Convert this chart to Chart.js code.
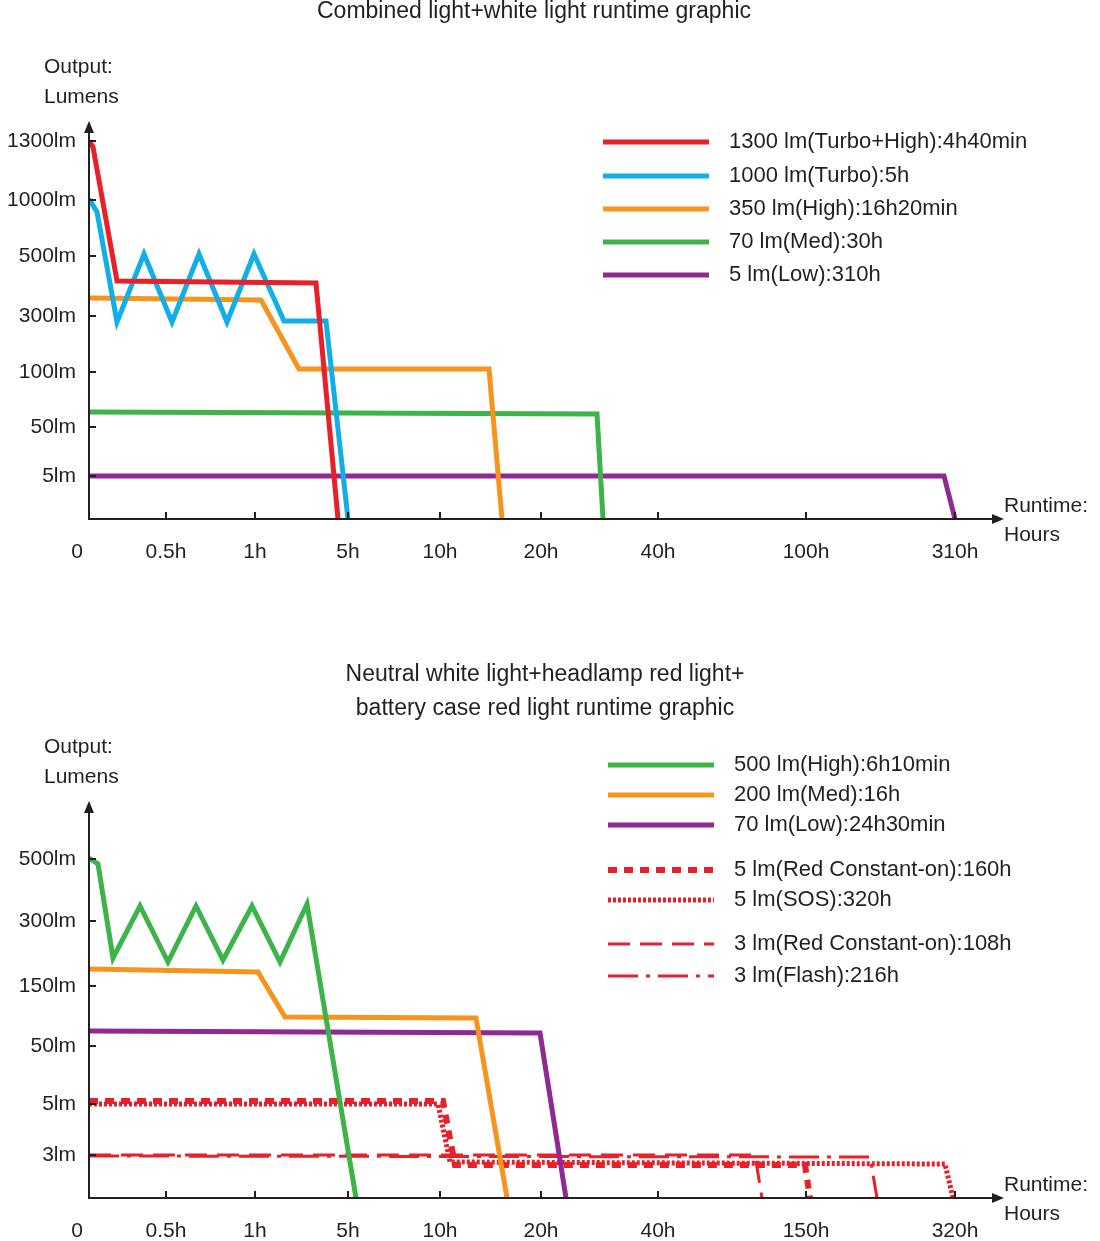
<!DOCTYPE html>
<html><head><meta charset="utf-8">
<script src="https://cdn.jsdelivr.net/npm/chart.js@4"></script>
<style>
body{margin:0;background:#fff;}
canvas{position:absolute;left:0;}
</style></head>
<body>
<canvas id="top" width="1100" height="620" style="top:0"></canvas>
<canvas id="bottom" width="1100" height="621" style="top:620px"></canvas>
<script>
// x and y are in axis units (the axes are not to scale, so units follow the drawn ticks)
const topXTicks = [[77, "0.5h"], [166, "1h"], [259, "5h"], [351, "10h"], [452, "20h"], [569, "40h"], [717, "100h"], [866, "310h"]];
const topYTicks = [[378, "1300lm"], [319, "1000lm"], [263, "500lm"], [203, "300lm"], [147, "100lm"], [92, "50lm"], [43, "5lm"]];
const botXTicks = [[77, "0.5h"], [166, "1h"], [259, "5h"], [351, "10h"], [452, "20h"], [569, "40h"], [717, "150h"], [866, "320h"]];
const botYTicks = [[339, "500lm"], [277, "300lm"], [212, "150lm"], [152, "50lm"], [94, "5lm"], [43, "3lm"]];

const topLabels = ["1300 lm(Turbo+High):4h40min", "1000 lm(Turbo):5h", "350 lm(High):16h20min", "70 lm(Med):30h", "5 lm(Low):310h"];
const turbo13 = [[0,378],[4,372],[28,238],[227,236],[249,0]];
const turbo10 = [[0,320],[8,307],[28,197],[55,265],[83,197],[110,265],[138,197],[165,265],[195,198],[237,198],[259,0]];
const high350 = [[0,221],[172,219],[210,150],[400,150],[413,0]];
const med70 = [[0,107],[508,105],[514,0]];
const low5 = [[0,43],[855,43],[866,0]];

const botLabels = ["500 lm(High):6h10min", "200 lm(Med):16h", "70 lm(Low):24h30min", "5 lm(Red Constant-on):160h", "5 lm(SOS):320h", "3 lm(Red Constant-on):108h", "3 lm(Flash):216h"];
const high500 = [[0,340],[9,334],[24,240],[51,292],[79,236],[107,292],[134,238],[163,292],[191,236],[218,294],[267,0]];
const med200 = [[0,229],[169,226],[196,181],[387,180],[418,0]];
const low70 = [[0,167],[451,165],[477,0]];
const red5 = [[0,97],[354,97],[366,33],[716,33],[721,0]];
const sos5 = [[0,94],[349,94],[361,36],[856,34],[864,0]];
const red3 = [[0,43],[666,43],[673,0]];
const flash3 = [[0,42],[781,41],[788,0]];

const FONT = '"Liberation Sans", Arial, sans-serif';
const RED = "#e8202a", BLUE = "#12aee8", ORANGE = "#f7941d", GREEN = "#3cb44a", PURPLE = "#8e2a91";

function ds(pts, color, dash, width) {
  return {data: pts.map(p => ({x: p[0], y: p[1]})), borderColor: color, borderWidth: width || 5,
    borderDash: dash || [], pointRadius: 0, tension: 0, fill: false, borderCapStyle: "butt"};
}

function makeChart(id, opts) {
  const decor = {
    id: "decor",
    afterDraw(chart) {
      const c = chart.ctx, xs = chart.scales.x, ys = chart.scales.y, a = chart.chartArea;
      c.save();
      c.fillStyle = "#231f20"; c.strokeStyle = "#231f20"; c.lineWidth = 2;
      // axes
      c.beginPath(); c.moveTo(a.left, a.top - 2); c.lineTo(a.left, a.bottom); c.lineTo(a.right, a.bottom); c.stroke();
      c.beginPath(); c.moveTo(a.left - 5, a.top + 8); c.lineTo(a.left, a.top - 4); c.lineTo(a.left + 5, a.top + 8); c.fill();
      c.beginPath(); c.moveTo(a.right - 8, a.bottom - 5); c.lineTo(a.right + 4, a.bottom); c.lineTo(a.right - 8, a.bottom + 5); c.fill();
      c.font = "21px " + FONT;
      c.textAlign = "center"; c.textBaseline = "middle";
      c.fillText("0", 77, a.bottom + 33);
      opts.xTicks.forEach(t => {
        const px = xs.getPixelForValue(t[0]);
        c.beginPath(); c.moveTo(px, a.bottom); c.lineTo(px, a.bottom - 7); c.stroke();
        c.fillText(t[1], px, a.bottom + 33);
      });
      c.textAlign = "right";
      opts.yTicks.forEach(t => {
        const py = ys.getPixelForValue(t[0]);
        c.beginPath(); c.moveTo(a.left, py); c.lineTo(a.left + 7, py); c.stroke();
        c.fillText(t[1], a.left - 13, py);
      });
      c.textAlign = "left";
      c.fillText("Output:", 44, opts.outY);
      c.fillText("Lumens", 44, opts.outY + 30);
      c.fillText("Runtime:", 1004, a.bottom - 13);
      c.fillText("Hours", 1004, a.bottom + 16);
      c.font = "23px " + FONT; c.textAlign = "center";
      opts.title.forEach((t, i) => c.fillText(t, opts.titleX, opts.titleY + i * 34));
      // legend
      c.font = "22px " + FONT; c.textAlign = "left";
      chart.data.datasets.forEach((d, i) => {
        const ly = opts.legY[i];
        c.strokeStyle = d.borderColor; c.lineWidth = d.borderWidth;
        c.setLineDash(d.borderDash); c.lineCap = "butt";
        c.beginPath(); c.moveTo(opts.legX, ly); c.lineTo(opts.legX + 106, ly); c.stroke();
        c.setLineDash([]);
        c.fillStyle = "#231f20";
        c.fillText(opts.labels[i], opts.legX + 126, ly);
      });
      c.restore();
    }
  };
  return new Chart(document.getElementById(id), {
    type: "line",
    data: {datasets: opts.datasets},
    options: {
      responsive: false, animation: false,
      layout: {padding: {left: 89, right: 100, top: opts.padTop, bottom: opts.padBottom}},
      plugins: {legend: {display: false}, tooltip: {enabled: false}},
      scales: {
        x: {type: "linear", min: 0, max: 911, display: false},
        y: {type: "linear", min: 0, max: opts.yMax, display: false}
      }
    },
    plugins: [decor]
  });
}

makeChart("top", {
  datasets: [ds(turbo13, RED), ds(turbo10, BLUE), ds(high350, ORANGE), ds(med70, GREEN), ds(low5, PURPLE)],
  labels: topLabels, xTicks: topXTicks, yTicks: topYTicks,
  padTop: 125, padBottom: 101, yMax: 394,
  outY: 67, title: ["Combined light+white light runtime graphic"], titleX: 534, titleY: 12,
  legX: 603, legY: [142, 176, 209, 242, 275]
});

makeChart("bottom", {
  datasets: [ds(high500, GREEN), ds(med200, ORANGE), ds(low70, PURPLE),
    ds(red5, RED, [9, 7], 6), ds(sos5, RED, [3, 2], 5), ds(red3, RED, [22, 10], 3), ds(flash3, RED, [30, 8, 4, 8], 3)],
  labels: botLabels, xTicks: botXTicks, yTicks: botYTicks,
  padTop: 185, padBottom: 43, yMax: 393,
  outY: 127, title: ["Neutral white light+headlamp red light+", "battery case red light runtime graphic"], titleX: 545, titleY: 55,
  legX: 608, legY: [145, 175, 205, 250, 280, 324, 356]
});
</script>
</body></html>
